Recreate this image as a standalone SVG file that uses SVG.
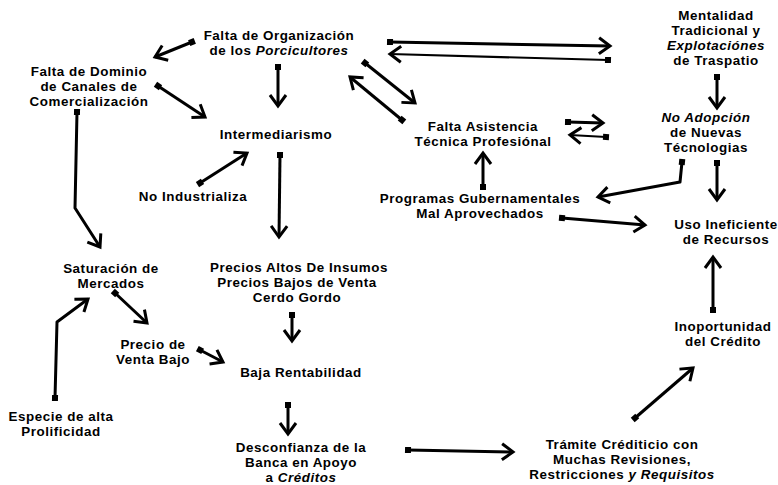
<svg xmlns="http://www.w3.org/2000/svg" width="778" height="485" viewBox="0 0 778 485">
<defs>
<style>
text{font-family:"Liberation Sans",Arial,sans-serif;font-size:13.4px;letter-spacing:0.55px;font-weight:bold;fill:#000;text-anchor:middle}
.i{font-style:italic}
.c{fill:none;stroke:#000;stroke-width:3;stroke-linejoin:round;marker-start:url(#sq);marker-end:url(#ah)}
.t{stroke-width:2.2}
</style>
<marker id="ah" viewBox="0 0 20 20" refX="14" refY="10" markerWidth="20" markerHeight="20" markerUnits="userSpaceOnUse" orient="auto" overflow="visible">
<path d="M3,2 L14,10 L3,18" fill="none" stroke="#000" stroke-width="3" stroke-linejoin="miter"/>
</marker>
<marker id="sq" viewBox="0 0 10 10" refX="5" refY="5" markerWidth="10" markerHeight="10" markerUnits="userSpaceOnUse" orient="auto">
<rect x="2" y="2" width="6" height="6" fill="#000"/>
</marker>
</defs>
<rect width="778" height="485" fill="#fff"/>
<g id="connectors">
<path class="c" d="M192,42 L155,57"/>
<path class="c" d="M278,67 L278,106"/>
<path class="c" d="M158,86 L205,117"/>
<path class="c" d="M390,42 L610,46"/>
<path class="c t" d="M608,60 L390,54"/>
<path class="c" d="M365,63 L415,103"/>
<path class="c" d="M402,120 L350,77"/>
<path class="c" d="M568,122 L603,123"/>
<path class="c t" d="M606,137 L570,135"/>
<path class="c" d="M717,77 L717,108"/>
<path class="c" d="M483,187 L483,153"/>
<path class="c" d="M682,162 L680,182 L598,197"/>
<path class="c" d="M717,163 L717,200"/>
<path class="c" d="M562,218 L645,225"/>
<path class="c" d="M713,310 L713,257"/>
<path class="c" d="M635,418 L693,368"/>
<path class="c" d="M408,450 L513,452"/>
<path class="c" d="M288,405 L288,434"/>
<path class="c" d="M292,315 L292,341"/>
<path class="c" d="M200,350 L223,362"/>
<path class="c" d="M115,293 L147,323"/>
<path class="c" d="M55,398 L57,322 L88,299"/>
<path class="c" d="M77,112 L75,208 L100,247"/>
<path class="c" d="M200,183 L247,153"/>
<path class="c" d="M280,155 L279,237"/>
</g>
<g id="organizacion"><text x="279" y="39.5">Falta de Organización</text><text x="279" y="54.5">de los <tspan class="i">Porcicultores</tspan></text></g>
<g id="dominio"><text x="89" y="76">Falta de Dominio</text><text x="89" y="91">de Canales de</text><text x="89" y="106">Comercialización</text></g>
<g id="intermediarismo"><text x="276" y="139">Intermediarismo</text></g>
<g id="mentalidad"><text x="716" y="20">Mentalidad</text><text x="716" y="35">Tradicional y</text><text x="716" y="50" class="i">Explotaciónes</text><text x="716" y="65">de Traspatio</text></g>
<g id="adopcion"><text x="706" y="122" class="i">No Adopción</text><text x="706" y="137">de Nuevas</text><text x="706" y="152">Técnologias</text></g>
<g id="asistencia"><text x="483" y="130.5">Falta Asistencia</text><text x="483" y="145.5">Técnica Profesiónal</text></g>
<g id="industrializa"><text x="193" y="201">No Industrializa</text></g>
<g id="programas"><text x="480" y="202.5">Programas Gubernamentales</text><text x="480" y="217.5">Mal Aprovechados</text></g>
<g id="uso"><text x="726" y="228.5">Uso Ineficiente</text><text x="726" y="243.5">de Recursos</text></g>
<g id="saturacion"><text x="111" y="272.5">Saturación de</text><text x="111" y="287.5">Mercados</text></g>
<g id="precios"><text x="299" y="271.5">Precios Altos De Insumos</text><text x="297" y="286.5">Precios Bajos de Venta</text><text x="297" y="301.5">Cerdo Gordo</text></g>
<g id="inoportunidad"><text x="723" y="330.5">Inoportunidad</text><text x="723" y="345.5">del Crédito</text></g>
<g id="precioventa"><text x="153" y="348.5">Precio de</text><text x="153" y="363.5">Venta Bajo</text></g>
<g id="rentabilidad"><text x="301" y="377">Baja Rentabilidad</text></g>
<g id="especie"><text x="61" y="420.5">Especie de alta</text><text x="61" y="435.5">Prolificidad</text></g>
<g id="desconfianza"><text x="301" y="452">Desconfianza de la</text><text x="301" y="467">Banca en Apoyo</text><text x="301" y="482">a <tspan class="i">Créditos</tspan></text></g>
<g id="tramite"><text x="622" y="449">Trámite Créditicio con</text><text x="622" y="464">Muchas Revisiones,</text><text x="622" y="479">Restricciones <tspan class="i">y Requisitos</tspan></text></g>
</svg>
